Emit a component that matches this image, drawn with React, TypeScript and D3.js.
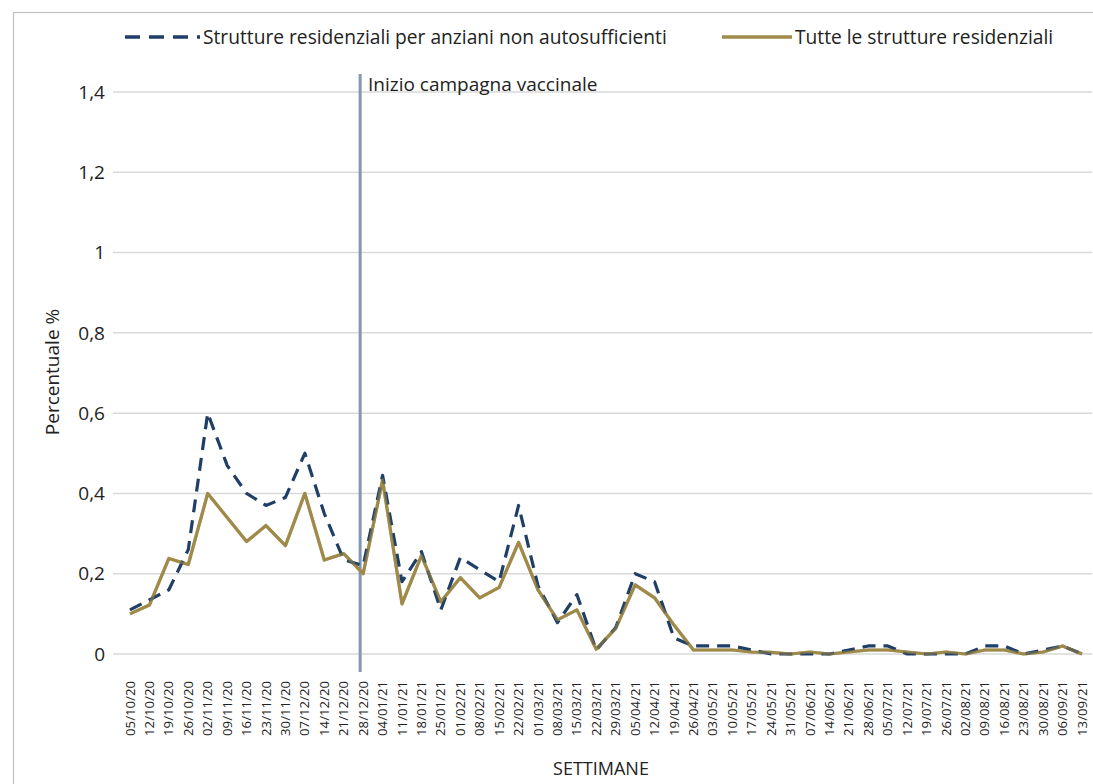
import React from "react";
import * as d3 from "d3";

const weeks = [
  "05/10/20","12/10/20","19/10/20","26/10/20","02/11/20","09/11/20","16/11/20","23/11/20","30/11/20","07/12/20","14/12/20","21/12/20","28/12/20",
  "04/01/21","11/01/21","18/01/21","25/01/21","01/02/21","08/02/21","15/02/21","22/02/21","01/03/21","08/03/21","15/03/21","22/03/21","29/03/21",
  "05/04/21","12/04/21","19/04/21","26/04/21","03/05/21","10/05/21","17/05/21","24/05/21","31/05/21","07/06/21","14/06/21","21/06/21","28/06/21",
  "05/07/21","12/07/21","19/07/21","26/07/21","02/08/21","09/08/21","16/08/21","23/08/21","30/08/21","06/09/21","13/09/21",
];

const anziani = [
  0.11,0.135,0.16,0.26,0.60,0.47,0.40,0.37,0.39,0.50,0.35,0.235,0.22,
  0.445,0.18,0.255,0.11,0.24,0.21,0.18,0.37,0.17,0.078,0.148,0.01,0.066,
  0.20,0.18,0.04,0.02,0.02,0.02,0.01,0.0,0.0,0.0,0.0,0.01,0.02,
  0.02,0.0,0.0,0.0,0.0,0.02,0.02,0.0,0.01,0.02,0.0,
];

const tutte = [
  0.10,0.122,0.238,0.223,0.40,0.34,0.28,0.32,0.27,0.40,0.234,0.25,0.20,
  0.433,0.125,0.245,0.13,0.19,0.14,0.166,0.278,0.16,0.085,0.11,0.012,0.064,
  0.172,0.14,0.072,0.01,0.01,0.01,0.005,0.004,0.0,0.005,0.0,0.005,0.01,
  0.01,0.005,0.0,0.005,0.0,0.01,0.01,0.0,0.005,0.02,0.0,
];

const yTicks = [0, 0.2, 0.4, 0.6, 0.8, 1, 1.2, 1.4];
const vaccineStart = "28/12/20";

const legendLabels = [
  "Strutture residenziali per anziani non autosufficienti",
  "Tutte le strutture residenziali",
];

const NAVY = "#1f3f66";
const GOLD = "#a08b4b";
const VLINE = "#8497b0";
const GRID = "#d9d9d9";
const FONT = "'Open Sans', 'Noto Sans', sans-serif";

export default function App() {
  const W = 1093;
  const H = 784;
  const x = d3.scalePoint<string>().domain(weeks).range([130, 1082]);
  const y = d3.scaleLinear().domain([0, 1.4]).range([654, 92]);

  const line = d3
    .line<number>()
    .x((_, i) => x(weeks[i]) as number)
    .y((d) => y(d));

  const fmt = (v: number) => String(v).replace(".", ",");
  const vx = (x(vaccineStart) as number) - 3;

  return (
    <svg
      width={W}
      height={H}
      style={{ position: "absolute", left: 0, top: 0, background: "#fff" }}
      fontFamily={FONT}
    >
      <rect x={0} y={0} width={W} height={H} fill="#fff" />
      <rect x={13.5} y={12.5} width={1100} height={900} fill="none" stroke="#bfbfbf" strokeWidth={1.2} />

      {/* legend */}
      <line x1={125} x2={200} y1={37} y2={37} stroke={NAVY} strokeWidth={3.5} strokeDasharray="15,9" />
      <text x={203} y={44} fontSize={19.2} fill="#222">{legendLabels[0]}</text>
      <line x1={722} x2={792} y1={37} y2={37} stroke={GOLD} strokeWidth={3.5} />
      <text x={795} y={44} fontSize={19.2} fill="#222">{legendLabels[1]}</text>

      {/* gridlines + y ticks */}
      {yTicks.map((t) => (
        <g key={t}>
          <line x1={113} x2={1092} y1={y(t)} y2={y(t)} stroke={GRID} strokeWidth={1.5} />
          <text x={105} y={y(t)} dy="0.35em" textAnchor="end" fontSize={19} fill="#222">
            {fmt(t)}
          </text>
        </g>
      ))}

      {/* y title */}
      <text
        transform={`translate(59,372) rotate(-90)`}
        textAnchor="middle"
        fontSize={19}
        fill="#222"
      >
        Percentuale %
      </text>

      {/* vaccination start */}
      <line x1={vx} x2={vx} y1={74} y2={672} stroke={VLINE} strokeWidth={3} />
      <text x={368} y={91} fontSize={19} fill="#222">Inizio campagna vaccinale</text>

      {/* series */}
      <path d={line(tutte) || ""} fill="none" stroke={GOLD} strokeWidth={3.2} strokeLinejoin="round" />
      <path d={line(anziani) || ""} fill="none" stroke={NAVY} strokeWidth={3.2} strokeDasharray="13,8" strokeLinejoin="round" />
      <path d={line(tutte) || ""} fill="none" stroke={GOLD} strokeWidth={3.2} strokeLinejoin="round" opacity={0.55} />

      {/* x tick labels */}
      {weeks.map((w) => (
        <text
          key={w}
          transform={`translate(${x(w)},681) rotate(-90)`}
          textAnchor="end"
          dy="0.35em"
          fontSize={13.2}
          fill="#222"
        >
          {w}
        </text>
      ))}

      <text x={601} y={775} textAnchor="middle" fontSize={18} fill="#222">SETTIMANE</text>
    </svg>
  );
}
